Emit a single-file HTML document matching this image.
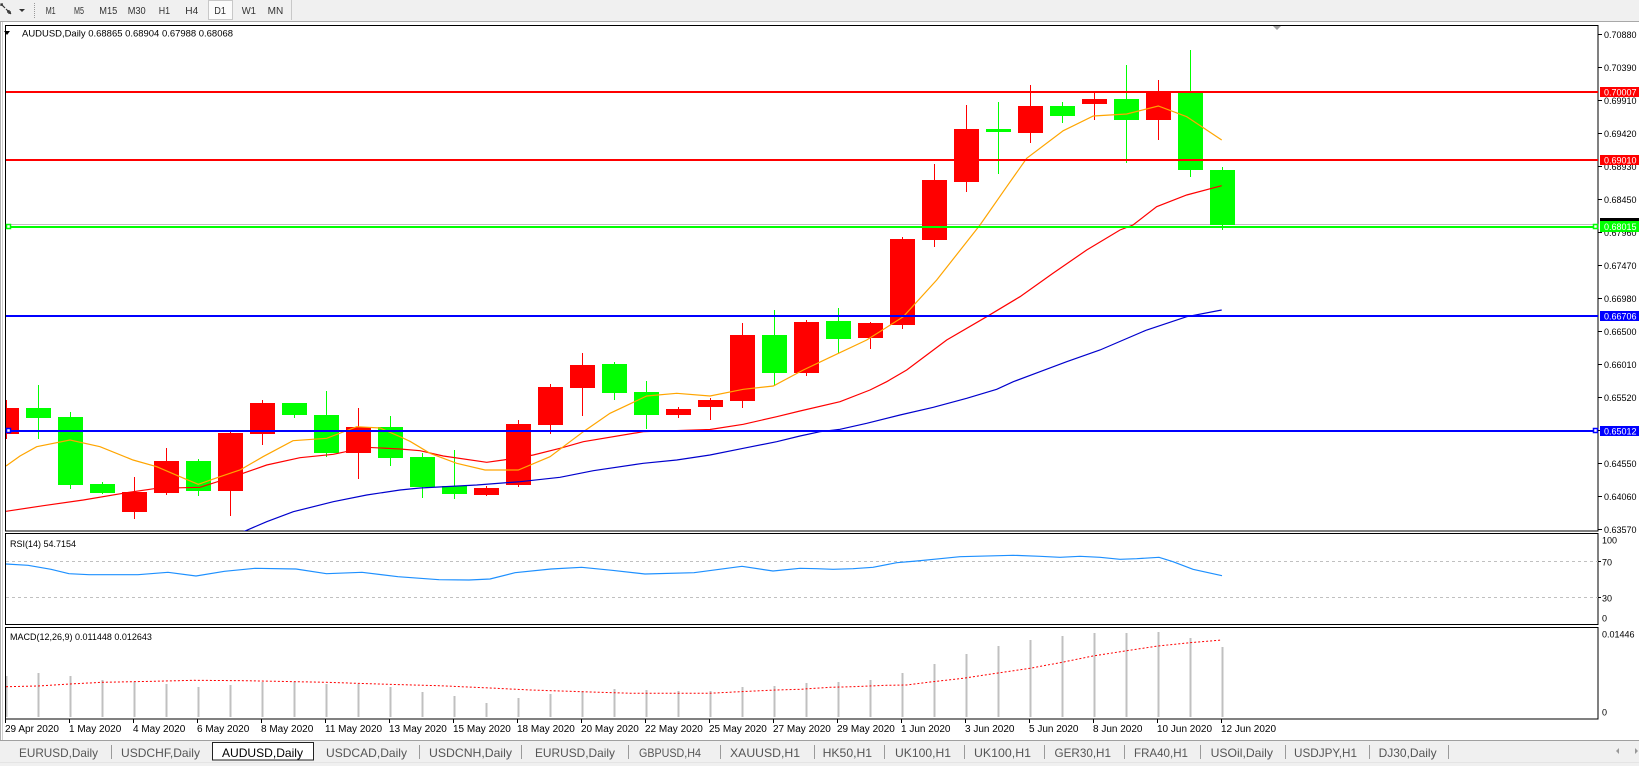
<!DOCTYPE html>
<html>
<head>
<meta charset="utf-8">
<style>
html,body{margin:0;padding:0;background:#fff;}
body{width:1639px;height:766px;overflow:hidden;}
svg{display:block;font-family:"Liberation Sans",sans-serif;}
</style>
</head>
<body>
<svg width="1639" height="766" viewBox="0 0 1639 766" xmlns="http://www.w3.org/2000/svg">
<defs>
<clipPath id="cp"><rect x="6" y="26" width="1592" height="505"/></clipPath>
<clipPath id="cr"><rect x="6" y="535" width="1592" height="89"/></clipPath>
<clipPath id="cm"><rect x="6" y="628" width="1592" height="91"/></clipPath>
</defs>

<!-- toolbar -->
<rect x="0" y="0" width="1639" height="21" fill="#f0f0f0"/>
<line x1="0" y1="21.5" x2="1639" y2="21.5" stroke="#a8a8a8"/>
<g fill="none" stroke="#333" stroke-width="1.2">
<path d="M1 4 L5 8 M3 4 L1 4 L1 6"/>
<path d="M6 9 L11 14 M7 12 L11 12 M9 10 L9 14"/>
</g>
<polygon points="19,9 25,9 22,12" fill="#333"/>
<line x1="34.5" y1="3" x2="34.5" y2="18" stroke="#999" stroke-dasharray="1,1"/>
<rect x="208.5" y="0.5" width="24" height="19" fill="#fbfbfb" stroke="#c8c8c8"/>
<line x1="291.5" y1="0" x2="291.5" y2="20" stroke="#c8c8c8"/>
<g font-size="10" fill="#333">
<text x="45.7" y="14" textLength="10" lengthAdjust="spacingAndGlyphs">M1</text>
<text x="74" y="14" textLength="10" lengthAdjust="spacingAndGlyphs">M5</text>
<text x="99.3" y="14" textLength="18" lengthAdjust="spacingAndGlyphs">M15</text>
<text x="127.7" y="14" textLength="18" lengthAdjust="spacingAndGlyphs">M30</text>
<text x="158.7" y="14" textLength="11.3" lengthAdjust="spacingAndGlyphs">H1</text>
<text x="185.3" y="14" textLength="13" lengthAdjust="spacingAndGlyphs">H4</text>
<text x="214.3" y="14" textLength="11.7" lengthAdjust="spacingAndGlyphs">D1</text>
<text x="241.7" y="14" textLength="14.3" lengthAdjust="spacingAndGlyphs">W1</text>
<text x="267.7" y="14" textLength="15.6" lengthAdjust="spacingAndGlyphs">MN</text>
</g>

<!-- window left border -->
<line x1="0.5" y1="22" x2="0.5" y2="740" stroke="#b0b0b0"/>
<line x1="2.5" y1="22" x2="2.5" y2="740" stroke="#d0d0d0"/>

<!-- panel borders -->
<rect x="5.5" y="25.5" width="1592.5" height="505.5" fill="none" stroke="#000"/>
<rect x="5.5" y="533.5" width="1592.5" height="91" fill="none" stroke="#000"/>
<rect x="5.5" y="627.5" width="1592.5" height="91.5" fill="none" stroke="#000"/>

<!-- shift marker -->
<polygon points="1273,26 1281,26 1277,30" fill="#a0a0a0"/>

<!-- price panel content -->
<g clip-path="url(#cp)" shape-rendering="crispEdges">
<line x1="6" y1="224.5" x2="1598" y2="224.5" stroke="#c0c0c0"/>
<g fill="#ff0000">
<rect x="6" y="400" width="1" height="39"/><rect x="-6" y="408" width="25" height="26"/>
<rect x="134" y="477" width="1" height="42"/><rect x="122" y="492" width="25" height="20"/>
<rect x="166" y="448" width="1" height="47"/><rect x="154" y="461" width="25" height="32"/>
<rect x="230" y="432" width="1" height="84"/><rect x="218" y="433" width="25" height="58"/>
<rect x="262" y="400" width="1" height="45"/><rect x="250" y="403" width="25" height="31"/>
<rect x="358" y="408" width="1" height="71"/><rect x="346" y="427" width="25" height="26"/>
<rect x="486" y="486" width="1" height="10"/><rect x="474" y="488" width="25" height="7"/>
<rect x="518" y="420" width="1" height="67"/><rect x="506" y="424" width="25" height="61"/>
<rect x="550" y="384" width="1" height="50"/><rect x="538" y="387" width="25" height="38"/>
<rect x="582" y="353" width="1" height="63"/><rect x="570" y="365" width="25" height="23"/>
<rect x="678" y="407" width="1" height="11"/><rect x="666" y="409" width="25" height="6"/>
<rect x="710" y="398" width="1" height="22"/><rect x="698" y="400" width="25" height="7"/>
<rect x="742" y="323" width="1" height="85"/><rect x="730" y="335" width="25" height="66"/>
<rect x="806" y="320" width="1" height="56"/><rect x="794" y="322" width="25" height="51"/>
<rect x="870" y="322" width="1" height="27"/><rect x="858" y="323" width="25" height="15"/>
<rect x="902" y="237" width="1" height="92"/><rect x="890" y="239" width="25" height="86"/>
<rect x="934" y="164" width="1" height="83"/><rect x="922" y="180" width="25" height="60"/>
<rect x="966" y="105" width="1" height="87"/><rect x="954" y="129" width="25" height="53"/>
<rect x="1030" y="85" width="1" height="58"/><rect x="1018" y="106" width="25" height="27"/>
<rect x="1094" y="92" width="1" height="28"/><rect x="1082" y="99" width="25" height="5"/>
<rect x="1158" y="80" width="1" height="60"/><rect x="1146" y="92" width="25" height="28"/>
</g>
<g fill="#00ff00">
<rect x="38" y="385" width="1" height="54"/><rect x="26" y="408" width="25" height="10"/>
<rect x="70" y="412" width="1" height="77"/><rect x="58" y="417" width="25" height="68"/>
<rect x="102" y="482" width="1" height="12"/><rect x="90" y="484" width="25" height="9"/>
<rect x="198" y="459" width="1" height="37"/><rect x="186" y="461" width="25" height="30"/>
<rect x="294" y="403" width="1" height="15"/><rect x="282" y="403" width="25" height="12"/>
<rect x="326" y="391" width="1" height="66"/><rect x="314" y="415" width="25" height="38"/>
<rect x="390" y="416" width="1" height="50"/><rect x="378" y="427" width="25" height="31"/>
<rect x="422" y="453" width="1" height="45"/><rect x="410" y="457" width="25" height="30"/>
<rect x="454" y="450" width="1" height="49"/><rect x="442" y="486" width="25" height="8"/>
<rect x="614" y="362" width="1" height="38"/><rect x="602" y="364" width="25" height="29"/>
<rect x="646" y="381" width="1" height="48"/><rect x="634" y="392" width="25" height="23"/>
<rect x="774" y="310" width="1" height="76"/><rect x="762" y="335" width="25" height="38"/>
<rect x="838" y="308" width="1" height="45"/><rect x="826" y="321" width="25" height="18"/>
<rect x="998" y="102" width="1" height="72"/><rect x="986" y="129" width="25" height="3"/>
<rect x="1062" y="102" width="1" height="21"/><rect x="1050" y="106" width="25" height="10"/>
<rect x="1126" y="65" width="1" height="98"/><rect x="1114" y="99" width="25" height="21"/>
<rect x="1190" y="50" width="1" height="127"/><rect x="1178" y="92" width="25" height="78"/>
<rect x="1222" y="167" width="1" height="63"/><rect x="1210" y="170" width="25" height="55"/>
</g>
</g>
<g clip-path="url(#cp)" fill="none" stroke-width="1.2">
<polyline stroke="#0000cd" points="200,545 245,531 266.7,521.7 293.3,511.7 333.3,501.7 366.7,495 400,490 420,488 476.7,485 520,481.7 560,477.3 593.3,470.7 643.3,463.3 676.7,460 710,455 743.3,448.3 776.7,441.7 800,436 820,431.7 840,429.3 866.7,423.3 900,415 933.3,407.3 966.7,398.3 996.7,389.3 1013.3,381.7 1040,371.7 1066.7,361.7 1100,350 1146.7,330 1186.7,316.7 1221.7,310"/>
<polyline stroke="#ff0000" points="6,511.3 43.3,505.7 83.3,500 126.7,492.7 156.7,488.3 200,487.3 233.3,476.7 266.7,465 300,457.7 333.3,454.3 366.7,447.3 400,449 420,450.7 443.3,456 486.7,462.3 503.3,460 533.3,455 560,448.3 583.3,441.7 643.3,431.7 710,429.5 743.3,424.3 776.7,416.7 800,411 840,401.7 870,390 886.7,381.7 906.7,370 926.7,355 946.7,340 986.7,316.7 1020,296.7 1053,273.3 1086.7,250 1120,230 1133,225 1156.7,206.7 1186.7,195 1221.7,185.7"/>
<polyline stroke="#ffa500" points="6,466 20,456 36.7,446.7 70,440 100,446.7 133,460 156.7,466.7 180,476.7 198.3,484.3 220,476.7 240,470 263,456.7 293,440.7 326.7,438.3 356.7,426.7 380,428 400,436.7 410,441.3 430,453.3 456.7,463.3 485,470 518.3,470 550,456.7 583.3,431.7 610,413.3 646.7,396 676.7,393.3 710,396 743.3,389.3 773.3,386 803.3,370 830,357.3 866.7,340 903.3,316.7 936.7,280 980,225 1006.7,186.7 1026.7,158.3 1063.3,130.7 1093.3,116 1126.7,114 1158.3,106 1186.7,116.7 1221.7,140"/>
</g>
<g shape-rendering="crispEdges">
<rect x="6" y="91" width="1592" height="2" fill="#ff0000"/>
<rect x="6" y="159" width="1592" height="2" fill="#ff0000"/>
<rect x="6" y="226" width="1592" height="2" fill="#00ff00"/>
<rect x="6" y="315" width="1592" height="2" fill="#0000ff"/>
<rect x="6" y="430" width="1592" height="2" fill="#0000ff"/>
</g>
<g fill="#fff" stroke-width="1.5">
<rect x="6.5" y="224.5" width="4" height="4" stroke="#00ff00"/>
<rect x="1593.5" y="224.5" width="4" height="4" stroke="#00ff00"/>
<rect x="6.5" y="428.5" width="4" height="4" stroke="#0000ff"/>
<rect x="1593.5" y="428.5" width="4" height="4" stroke="#0000ff"/>
</g>

<!-- title -->
<polygon points="4,31 10,31 7,35" fill="#000"/>
<text x="22" y="36.5" font-size="9.5" fill="#000" textLength="211" lengthAdjust="spacingAndGlyphs">AUDUSD,Daily  0.68865 0.68904 0.67988 0.68068</text>

<!-- price axis -->
<g stroke="#000" shape-rendering="crispEdges">
<line x1="1598" y1="34.5" x2="1602" y2="34.5"/><line x1="1598" y1="67.5" x2="1602" y2="67.5"/>
<line x1="1598" y1="100.5" x2="1602" y2="100.5"/><line x1="1598" y1="133.5" x2="1602" y2="133.5"/>
<line x1="1598" y1="166.5" x2="1602" y2="166.5"/><line x1="1598" y1="199.5" x2="1602" y2="199.5"/>
<line x1="1598" y1="232.5" x2="1602" y2="232.5"/><line x1="1598" y1="265.5" x2="1602" y2="265.5"/>
<line x1="1598" y1="298.5" x2="1602" y2="298.5"/><line x1="1598" y1="331.5" x2="1602" y2="331.5"/>
<line x1="1598" y1="364.5" x2="1602" y2="364.5"/><line x1="1598" y1="397.5" x2="1602" y2="397.5"/>
<line x1="1598" y1="430.5" x2="1602" y2="430.5"/><line x1="1598" y1="463.5" x2="1602" y2="463.5"/>
<line x1="1598" y1="496.5" x2="1602" y2="496.5"/><line x1="1598" y1="529.5" x2="1602" y2="529.5"/>
</g>
<g font-size="9" fill="#000">
<text x="1604" y="38">0.70880</text>
<text x="1604" y="71">0.70390</text>
<text x="1604" y="104">0.69910</text>
<text x="1604" y="137">0.69420</text>
<text x="1604" y="170">0.68930</text>
<text x="1604" y="203">0.68450</text>
<text x="1604" y="236">0.67960</text>
<text x="1604" y="269">0.67470</text>
<text x="1604" y="302">0.66980</text>
<text x="1604" y="335">0.66500</text>
<text x="1604" y="368">0.66010</text>
<text x="1604" y="401">0.65520</text>
<text x="1604" y="434">0.65030</text>
<text x="1604" y="467">0.64550</text>
<text x="1604" y="500">0.64060</text>
<text x="1604" y="533">0.63570</text>
</g>
<g shape-rendering="crispEdges">
<rect x="1600" y="87" width="39" height="10" fill="#ff0000"/>
<rect x="1600" y="155" width="39" height="10" fill="#ff0000"/>
<rect x="1600" y="218" width="39" height="11" fill="#000"/>
<rect x="1600" y="221" width="39" height="11" fill="#00ff00"/>
<rect x="1600" y="311" width="39" height="10" fill="#0000ff"/>
<rect x="1600" y="426" width="39" height="10" fill="#0000ff"/>
</g>
<g font-size="9" fill="#fff">
<text x="1604" y="95.5">0.70007</text>
<text x="1604" y="163.5">0.69010</text>
<text x="1604" y="230">0.68015</text>
<text x="1604" y="319.5">0.66706</text>
<text x="1604" y="434.5">0.65012</text>
</g>

<!-- RSI panel -->
<g clip-path="url(#cr)">
<line x1="6" y1="561.5" x2="1598" y2="561.5" stroke="#c0c0c0" stroke-dasharray="3,3"/>
<line x1="6" y1="597.5" x2="1598" y2="597.5" stroke="#c0c0c0" stroke-dasharray="3,3"/>
<polyline fill="none" stroke="#1e90ff" stroke-width="1.2" points="6,564 28,565.3 51,569.3 69,573.7 89,574.7 138,574.7 168,572.3 196,576 224.5,571.3 255,568.3 296,569 326.5,573.7 362,572.3 398,576.7 439,579.7 469,580 490,579 515,572.7 551,569 581.6,567.3 612,570.3 645,574 694,572.7 742,566.3 773,571 800,568.3 816.7,568.7 833,569.3 853,568.7 873,567.3 896.7,562.7 916.7,561 940,558.7 960,556.7 1013,555.3 1040,556.3 1060,557.3 1080,556.3 1100,557.3 1120,559.3 1136.7,558.7 1159,557.3 1173,561.7 1193,569.3 1222,575.7"/>
</g>
<text x="10" y="547" font-size="9" fill="#000">RSI(14) 54.7154</text>
<g stroke="#000" shape-rendering="crispEdges">
<line x1="1598" y1="561.5" x2="1601" y2="561.5"/><line x1="1598" y1="597.5" x2="1601" y2="597.5"/>
</g>
<g font-size="9" fill="#000">
<text x="1602" y="543.5">100</text>
<text x="1602" y="565.5">70</text>
<text x="1602" y="601.5">30</text>
<text x="1602" y="621.5">0</text>
</g>

<!-- MACD panel -->
<g clip-path="url(#cm)" shape-rendering="crispEdges" fill="#c0c0c0">
<rect x="5.5" y="676" width="2" height="41"/><rect x="37.5" y="673" width="2" height="44"/>
<rect x="69.5" y="676" width="2" height="41"/><rect x="101.5" y="680" width="2" height="37"/>
<rect x="133.5" y="682" width="2" height="35"/><rect x="165.5" y="684" width="2" height="33"/>
<rect x="197.5" y="687" width="2" height="30"/><rect x="229.5" y="685" width="2" height="32"/>
<rect x="261.5" y="682" width="2" height="35"/><rect x="293.5" y="682" width="2" height="35"/>
<rect x="325.5" y="684" width="2" height="33"/><rect x="357.5" y="684" width="2" height="33"/>
<rect x="389.5" y="687" width="2" height="30"/><rect x="421.5" y="692" width="2" height="25"/>
<rect x="453.5" y="696" width="2" height="21"/><rect x="485.5" y="703" width="2" height="14"/>
<rect x="517.5" y="698" width="2" height="19"/><rect x="549.5" y="694" width="2" height="23"/>
<rect x="581.5" y="691" width="2" height="26"/><rect x="613.5" y="689" width="2" height="28"/>
<rect x="645.5" y="690" width="2" height="27"/><rect x="677.5" y="691" width="2" height="26"/>
<rect x="709.5" y="691" width="2" height="26"/><rect x="741.5" y="687" width="2" height="30"/>
<rect x="773.5" y="686" width="2" height="31"/><rect x="805.5" y="683" width="2" height="34"/>
<rect x="837.5" y="682" width="2" height="35"/><rect x="869.5" y="680" width="2" height="37"/>
<rect x="901.5" y="673" width="2" height="44"/><rect x="933.5" y="664" width="2" height="53"/>
<rect x="965.5" y="654" width="2" height="63"/><rect x="997.5" y="646" width="2" height="71"/>
<rect x="1029.5" y="640" width="2" height="77"/><rect x="1061.5" y="636" width="2" height="81"/>
<rect x="1093.5" y="633" width="2" height="84"/><rect x="1125.5" y="633" width="2" height="84"/>
<rect x="1157.5" y="632" width="2" height="85"/><rect x="1189.5" y="638" width="2" height="79"/>
<rect x="1221.5" y="647" width="2" height="70"/>
</g>
<g clip-path="url(#cm)">
<polyline fill="none" stroke="#ff0000" stroke-width="1" stroke-dasharray="2,2" points="6,686.7 38,686 70,684 102,682.3 153,681.3 194,680.3 245,680.7 296,681.7 326.5,682.3 357,683.3 388,684.3 439,685.7 490,688 530.6,690 581.6,691.7 632.7,693.3 709,693.3 740,691.7 775.5,690 800,689.3 830,687.3 853,686.7 886.7,685.3 906.7,685 933,681.7 963,678.3 1000,672.7 1030,668.3 1062,662.3 1093,656 1126.7,650.7 1158,646 1190,642.7 1222,640"/>
</g>
<text x="10" y="640" font-size="9" fill="#000">MACD(12,26,9) 0.011448 0.012643</text>
<g font-size="9" fill="#000">
<text x="1602" y="637.5">0.01446</text>
<text x="1602" y="715.5">0</text>
</g>

<!-- date axis -->
<g stroke="#000" shape-rendering="crispEdges">
<line x1="5.5" y1="719" x2="5.5" y2="723"/><line x1="69.5" y1="719" x2="69.5" y2="723"/>
<line x1="133.5" y1="719" x2="133.5" y2="723"/><line x1="197.5" y1="719" x2="197.5" y2="723"/>
<line x1="261.5" y1="719" x2="261.5" y2="723"/><line x1="325.5" y1="719" x2="325.5" y2="723"/>
<line x1="389.5" y1="719" x2="389.5" y2="723"/><line x1="453.5" y1="719" x2="453.5" y2="723"/>
<line x1="517.5" y1="719" x2="517.5" y2="723"/><line x1="581.5" y1="719" x2="581.5" y2="723"/>
<line x1="645.5" y1="719" x2="645.5" y2="723"/><line x1="709.5" y1="719" x2="709.5" y2="723"/>
<line x1="773.5" y1="719" x2="773.5" y2="723"/><line x1="837.5" y1="719" x2="837.5" y2="723"/>
<line x1="901.5" y1="719" x2="901.5" y2="723"/><line x1="965.5" y1="719" x2="965.5" y2="723"/>
<line x1="1029.5" y1="719" x2="1029.5" y2="723"/><line x1="1093.5" y1="719" x2="1093.5" y2="723"/>
<line x1="1157.5" y1="719" x2="1157.5" y2="723"/><line x1="1221.5" y1="719" x2="1221.5" y2="723"/>
</g>
<g font-size="10" fill="#000">
<text x="5" y="732">29 Apr 2020</text>
<text x="69" y="732">1 May 2020</text>
<text x="133" y="732">4 May 2020</text>
<text x="197" y="732">6 May 2020</text>
<text x="261" y="732">8 May 2020</text>
<text x="325" y="732">11 May 2020</text>
<text x="389" y="732">13 May 2020</text>
<text x="453" y="732">15 May 2020</text>
<text x="517" y="732">18 May 2020</text>
<text x="581" y="732">20 May 2020</text>
<text x="645" y="732">22 May 2020</text>
<text x="709" y="732">25 May 2020</text>
<text x="773" y="732">27 May 2020</text>
<text x="837" y="732">29 May 2020</text>
<text x="901" y="732">1 Jun 2020</text>
<text x="965" y="732">3 Jun 2020</text>
<text x="1029" y="732">5 Jun 2020</text>
<text x="1093" y="732">8 Jun 2020</text>
<text x="1157" y="732">10 Jun 2020</text>
<text x="1221" y="732">12 Jun 2020</text>
</g>

<!-- tab bar -->
<rect x="0" y="740" width="1639" height="26" fill="#f0f0f0"/>
<line x1="0" y1="740.5" x2="1639" y2="740.5" stroke="#a0a0a0"/>
<line x1="0" y1="762.5" x2="1639" y2="762.5" stroke="#e4e4e4"/>
<rect x="212.5" y="742.5" width="101" height="17.5" fill="#fff" stroke="#222"/>
<g stroke="#9a9a9a" shape-rendering="crispEdges">
<line x1="111.5" y1="745" x2="111.5" y2="759"/>
<line x1="419.5" y1="745" x2="419.5" y2="759"/>
<line x1="521.5" y1="745" x2="521.5" y2="759"/>
<line x1="628.5" y1="745" x2="628.5" y2="759"/>
<line x1="720.5" y1="745" x2="720.5" y2="759"/>
<line x1="814.5" y1="745" x2="814.5" y2="759"/>
<line x1="884.5" y1="745" x2="884.5" y2="759"/>
<line x1="964.5" y1="745" x2="964.5" y2="759"/>
<line x1="1044.5" y1="745" x2="1044.5" y2="759"/>
<line x1="1124.5" y1="745" x2="1124.5" y2="759"/>
<line x1="1200.5" y1="745" x2="1200.5" y2="759"/>
<line x1="1285.5" y1="745" x2="1285.5" y2="759"/>
<line x1="1369.5" y1="745" x2="1369.5" y2="759"/>
<line x1="1448.5" y1="745" x2="1448.5" y2="759"/>
</g>
<g font-size="12" fill="#555">
<text x="19" y="757" textLength="79" lengthAdjust="spacingAndGlyphs">EURUSD,Daily</text>
<text x="121" y="757" textLength="79" lengthAdjust="spacingAndGlyphs">USDCHF,Daily</text>
<text x="222" y="757" textLength="81" lengthAdjust="spacingAndGlyphs" fill="#000">AUDUSD,Daily</text>
<text x="326" y="757" textLength="81" lengthAdjust="spacingAndGlyphs">USDCAD,Daily</text>
<text x="429" y="757" textLength="83" lengthAdjust="spacingAndGlyphs">USDCNH,Daily</text>
<text x="535" y="757" textLength="80" lengthAdjust="spacingAndGlyphs">EURUSD,Daily</text>
<text x="639" y="757" textLength="62" lengthAdjust="spacingAndGlyphs">GBPUSD,H4</text>
<text x="730" y="757" textLength="70" lengthAdjust="spacingAndGlyphs">XAUUSD,H1</text>
<text x="822.6" y="757" textLength="49.5" lengthAdjust="spacingAndGlyphs">HK50,H1</text>
<text x="895" y="757" textLength="56" lengthAdjust="spacingAndGlyphs">UK100,H1</text>
<text x="974" y="757" textLength="57" lengthAdjust="spacingAndGlyphs">UK100,H1</text>
<text x="1054.5" y="757" textLength="56.5" lengthAdjust="spacingAndGlyphs">GER30,H1</text>
<text x="1134" y="757" textLength="54" lengthAdjust="spacingAndGlyphs">FRA40,H1</text>
<text x="1210.6" y="757" textLength="62.4" lengthAdjust="spacingAndGlyphs">USOil,Daily</text>
<text x="1294" y="757" textLength="63" lengthAdjust="spacingAndGlyphs">USDJPY,H1</text>
<text x="1378.6" y="757" textLength="58" lengthAdjust="spacingAndGlyphs">DJ30,Daily</text>
</g>
<polygon points="1619,748 1619,754 1616,751" fill="#999"/>
<polygon points="1635,748 1635,754 1638,751" fill="#999"/>
</svg>
</body>
</html>
